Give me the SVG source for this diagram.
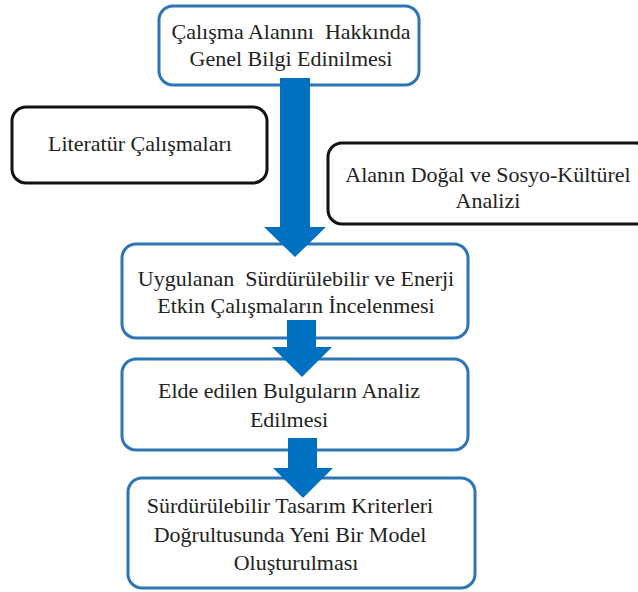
<svg xmlns="http://www.w3.org/2000/svg" width="638" height="592" viewBox="0 0 638 592">
<style>
.bb{fill:#fff;stroke:#2E75B6;stroke-width:3}
.kb{fill:#fff;stroke:#111;stroke-width:3}
.ar{fill:#0070C0}
</style>
<rect width="638" height="592" fill="#fff"/>
<g id="nodes" font-family="Liberation Serif, Times New Roman, serif" font-size="22" text-anchor="middle" fill="#222">
<g id="n1"><rect class="bb" x="159" y="6" width="260" height="79" rx="14"/>
<text x="291" y="39" xml:space="preserve">Çalışma Alanını  Hakkında</text>
<text x="291" y="66">Genel Bilgi Edinilmesi</text></g>
<g id="n2"><rect class="kb" x="12" y="107" width="255" height="76" rx="14"/>
<text x="140" y="151">Literatür Çalışmaları</text></g>
<g id="n3"><rect class="kb" x="328" y="143" width="322" height="81" rx="14"/>
<text x="488" y="182">Alanın Doğal ve Sosyo-Kültürel</text>
<text x="488" y="208">Analizi</text></g>
<g id="n4"><rect class="bb" x="122" y="244" width="346" height="94" rx="14"/>
<text x="296" y="286" xml:space="preserve">Uygulanan  Sürdürülebilir ve Enerji</text>
<text x="296" y="313">Etkin Çalışmaların İncelenmesi</text></g>
<g id="n5"><rect class="bb" x="122" y="359" width="346" height="91" rx="14"/>
<text x="289" y="398">Elde edilen Bulguların Analiz</text>
<text x="289" y="427">Edilmesi</text></g>
<g id="n6"><rect class="bb" x="128" y="478" width="347" height="110" rx="14"/>
<text x="290" y="513">Sürdürülebilir Tasarım Kriterleri</text>
<text x="290" y="542">Doğrultusunda Yeni Bir Model</text>
<text x="296" y="570">Oluşturulması</text></g>
</g>
<g id="connectors">
<path class="ar" d="M280 78 H310 V227 H326 L295 257 L264 227 H280 Z"/>
<path class="ar" d="M287 320 H316 V347 H332 L302 377 L272 347 H287 Z"/>
<path class="ar" d="M288 438 H317 V468 H333 L303 498 L273 468 H288 Z"/>
</g>
</svg>
